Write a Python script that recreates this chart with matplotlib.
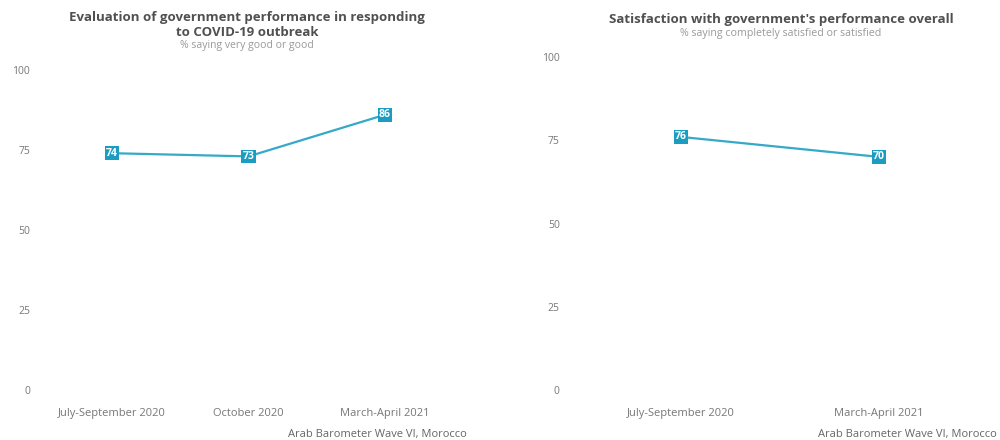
import matplotlib
matplotlib.use("Agg")
import matplotlib.pyplot as plt

# Data
left_categories = ["July-September 2020", "October 2020", "March-April 2021"]
left_values = [74, 73, 86]
right_categories = ["July-September 2020", "March-April 2021"]
right_values = [76, 70]
y_ticks = [0, 25, 50, 75, 100]

left_title = "Evaluation of government performance in responding\nto COVID-19 outbreak"
left_subtitle = "% saying very good or good"
right_title = "Satisfaction with government's performance overall"
right_subtitle = "% saying completely satisfied or satisfied"
caption = "Arab Barometer Wave VI, Morocco"

plt.rcParams['font.family'] = ['Open Sans', 'DejaVu Sans']

LINE = "#35a9c8"
BOX = "#1b9cc0"
TICK = "#777777"
TITLE = "#505050"
SUB = "#9a9a9a"

W, H = 1000, 440
fig = plt.figure(figsize=(W / 100, H / 100), dpi=100)


def px_axes(x0, x1, ytop, ybot):
    return fig.add_axes([x0 / W, 1 - ybot / H, (x1 - x0) / W, (ybot - ytop) / H])


def draw(ax, cats, vals, ypad):
    xs = list(range(len(cats)))
    ax.plot(xs, vals, color=LINE, lw=1.6, clip_on=False, zorder=2)
    for x, v in zip(xs, vals):
        ax.text(x, v, str(v), ha="center", va="center", color="white",
                fontsize=7.5, fontweight="bold", zorder=3,
                bbox=dict(boxstyle="square,pad=0.12", fc=BOX, ec="none"))
    ax.set_xlim(-0.5, len(cats) - 0.5)
    ax.set_ylim(0, 100)
    ax.set_xticks(xs)
    ax.set_xticklabels(cats)
    ax.set_yticks(y_ticks)
    ax.tick_params(axis="both", length=0, colors=TICK, labelsize=8)
    ax.tick_params(axis="x", pad=13)
    ax.tick_params(axis="y", pad=10)
    ax.tick_params(axis="y", pad=ypad, labelsize=7.5)
    for s in ax.spines.values():
        s.set_visible(False)
    ax.set_facecolor("none")


axL = px_axes(44, 453, 70, 390)
draw(axL, left_categories, left_values, 10)
axR = px_axes(582, 978, 57, 390)
draw(axR, right_categories, right_values, 16)

fig.text(247 / W, 1 - 25.5 / H, left_title, ha="center", va="center",
         fontsize=9.5, fontweight="bold", color=TITLE, linespacing=1.2)
fig.text(247 / W, 1 - 45.5 / H, left_subtitle, ha="center", va="center",
         fontsize=7.5, color=SUB)
fig.text(781 / W, 1 - 19.5 / H, right_title, ha="center", va="center",
         fontsize=9.5, fontweight="bold", color=TITLE)
fig.text(781 / W, 1 - 33.5 / H, right_subtitle, ha="center", va="center",
         fontsize=7.7, color=SUB)

fig.text(467 / W, 1 - 434 / H, caption, ha="right", va="center",
         fontsize=8, color="#666666")
fig.text(997 / W, 1 - 434 / H, caption, ha="right", va="center",
         fontsize=8, color="#666666")

fig.savefig("out.png", dpi=100)
